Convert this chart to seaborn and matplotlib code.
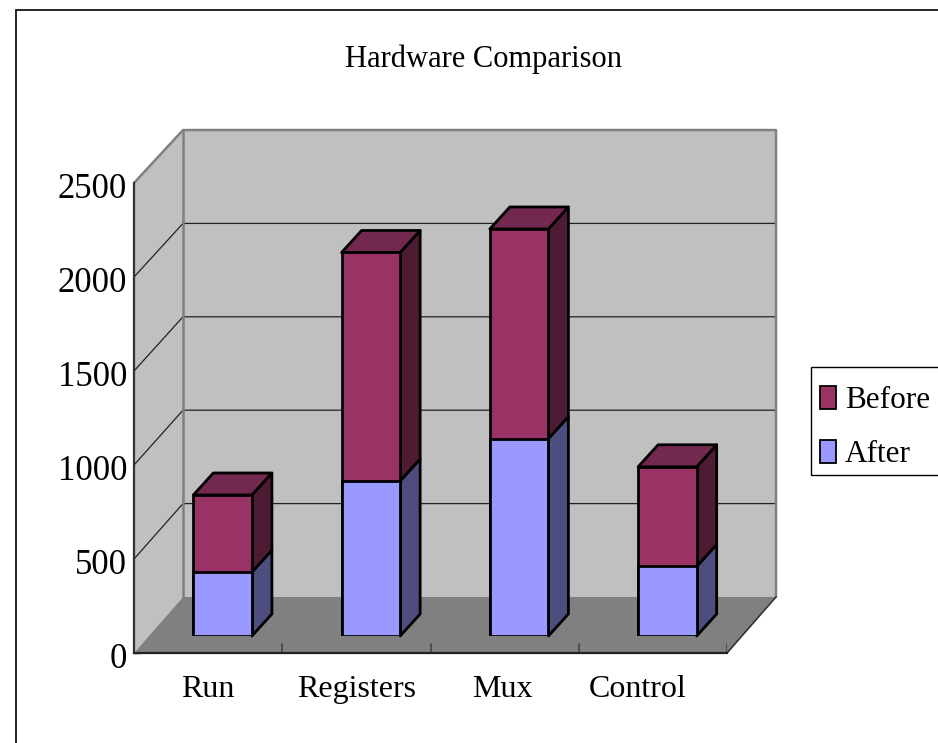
import matplotlib
matplotlib.use("Agg")
import matplotlib.pyplot as plt
from matplotlib.patches import Polygon, Rectangle
from matplotlib.transforms import ScaledTranslation
import pandas as pd
import seaborn as sns

# -----------------------------
# Data
# -----------------------------
categories = ["Run", "Registers", "Mux", "Control"]
after = [340, 825, 1050, 370]
before = [410, 1215, 1115, 530]
y_ticks = [0, 500, 1000, 1500, 2000, 2500]

# -----------------------------
# Styles
# -----------------------------
W, H = 938, 743
BEFORE_FRONT, BEFORE_SIDE, BEFORE_TOP = "#993366", "#4f1b34", "#73284f"
AFTER_FRONT, AFTER_SIDE = "#9999ff", "#4d4d80"
WALL, FLOOR, WALL_EDGE = "#c0c0c0", "#808080", "#808080"

sns.set_theme(style="white")
plt.rcParams["font.family"] = ["Liberation Serif", "DejaVu Serif"]


def axes_box(left, right, top, bottom):
    return [left / W, 1 - bottom / H, (right - left) / W, (bottom - top) / H]


def nudge(label, dx, dy):
    # move a text by screen pixels (y down)
    label.set_transform(label.get_transform() + ScaledTranslation(dx / 100, -dy / 100, fig.dpi_scale_trans))


fig = plt.figure(figsize=(W / 100, H / 100), dpi=100, facecolor="white")

# outer frame, runs off the right and bottom of the picture
fig.add_artist(Rectangle((15.5 / W, -0.05), 1.1, 1.05 - 9.5 / H, transform=fig.transFigure,
                         fill=False, edgecolor="black", lw=1.2))

# -----------------------------
# Walls and floor
# -----------------------------
ax = fig.add_axes(axes_box(134, 727, 183, 653))
ax.set_facecolor("none")
ax.set_xlim(-0.5, 3.5)
ax.set_ylim(0, 2500)

depth_x = 49 / 148.25
back_low = 298


def back_y(v):
    return back_low + v * 0.9935


x0, x1 = -0.5, 3.5
xb0, xb1 = x0 + depth_x, x1 + depth_x
ax.add_patch(Polygon([(x0, 0), (x0, 2500), (xb0, back_y(2500)), (xb0, back_y(0))],
                     facecolor=WALL, edgecolor="none", clip_on=False, zorder=1))
ax.add_patch(Polygon([(xb0, back_y(0)), (xb0, back_y(2500)), (xb1, back_y(2500)), (xb1, back_y(0))],
                     facecolor=WALL, edgecolor="none", clip_on=False, zorder=1))
ax.add_patch(Polygon([(x0, 0), (x1, 0), (xb1, back_y(0)), (xb0, back_y(0))],
                     facecolor=FLOOR, edgecolor="none", clip_on=False, zorder=1))

for v in y_ticks[1:-1]:
    ax.plot([x0, xb0, xb1], [v, back_y(v), back_y(v)], color="#222222", lw=0.9,
            clip_on=False, zorder=2)
ax.plot([x0, xb0, xb1, xb1], [2500, back_y(2500), back_y(2500), back_y(0)], color=WALL_EDGE,
        lw=1.8, clip_on=False, zorder=2)
ax.plot([xb0, xb0], [back_y(0), back_y(2500)], color=WALL_EDGE, lw=1.8, clip_on=False, zorder=2)
ax.plot([x1, xb1], [0, back_y(0)], color="#333333", lw=1.2, clip_on=False, zorder=2)
for c in [0.5, 1.5, 2.5, 3.5]:
    ax.plot([c, c], [0, 47], color="#444444", lw=1.2, zorder=2)

sns.despine(ax=ax, top=True, right=True)
ax.spines["left"].set_color("#333333")
ax.spines["left"].set_linewidth(1.6)
ax.spines["bottom"].set_color("#222222")
ax.spines["bottom"].set_linewidth(1.6)
ax.set_yticks(y_ticks)
ax.set_xticks(range(len(categories)))
ax.set_xticklabels(categories)
ax.tick_params(axis="y", direction="in", length=5, width=1, color="#222222", pad=5,
               labelsize=25, left=True, labelcolor="black")
ax.tick_params(axis="x", length=0, pad=16, labelsize=23, labelcolor="black")
for lab in ax.get_yticklabels():
    nudge(lab, 0, 3)
nudge(ax.get_xticklabels()[3], -15, 0)
nudge(ax.get_xticklabels()[2], -2, 0)

# -----------------------------
# Bars, on an axes shifted into the chart depth
# -----------------------------
ax_bar = fig.add_axes(axes_box(148.5, 741.5, 166, 636))
ax_bar.set_facecolor("none")

df = pd.DataFrame({"category": categories, "after": after, "before": before})
df["total"] = df["after"] + df["before"]

bar_width = 0.395
sns.barplot(data=df, x="category", y="total", color=BEFORE_FRONT, saturation=1, width=bar_width,
            edgecolor="black", linewidth=2, ax=ax_bar, label="Before", zorder=4)
sns.barplot(data=df, x="category", y="after", color=AFTER_FRONT, saturation=1, width=bar_width,
            edgecolor="black", linewidth=2, ax=ax_bar, label="After", zorder=4)
handles, labels = ax_bar.get_legend_handles_labels()
ax_bar.get_legend().remove()
ax_bar.set_xlim(-0.5, 3.5)
ax_bar.set_ylim(0, 2500)
ax_bar.axis("off")

bar_dx = 20 / 148.25
bar_dy = 22 / 0.188
half = bar_width / 2
for i in range(len(categories)):
    low, high = df["after"][i], df["total"][i]
    r = i + half
    l = i - half
    ax_bar.add_patch(Polygon([(r, 0), (r + bar_dx, bar_dy), (r + bar_dx, low + bar_dy), (r, low)],
                             facecolor=AFTER_SIDE, edgecolor="black", lw=2, joinstyle="round",
                             clip_on=False, zorder=3))
    ax_bar.add_patch(Polygon([(r, low), (r + bar_dx, low + bar_dy), (r + bar_dx, high + bar_dy), (r, high)],
                             facecolor=BEFORE_SIDE, edgecolor="black", lw=2, joinstyle="round",
                             clip_on=False, zorder=3))
    ax_bar.add_patch(Polygon([(l, high), (l + bar_dx, high + bar_dy), (r + bar_dx, high + bar_dy), (r, high)],
                             facecolor=BEFORE_TOP, edgecolor="black", lw=2, joinstyle="round",
                             clip_on=False, zorder=3))

# -----------------------------
# Title and legend
# -----------------------------
fig.text(483 / W, 1 - 59 / H, "Hardware Comparison", ha="center", va="center", fontsize=22,
         color="black")

fig.add_artist(Rectangle((810.5 / W, 1 - 475 / H), 0.2, 108 / H, transform=fig.transFigure,
                         facecolor="white", edgecolor="black", lw=1.0))
leg = fig.legend(handles, labels, loc="upper left", bbox_to_anchor=(810 / W, 1 - 376 / H),
                 borderaxespad=0, fontsize=22.5, frameon=False, labelcolor="black",
                 handlelength=0.5, handleheight=0.75, handletextpad=0.3,
                 labelspacing=0.78, borderpad=0.32)
for h in leg.legend_handles:
    h.set_linewidth(1.3)

fig.savefig("out.png", dpi=100)
